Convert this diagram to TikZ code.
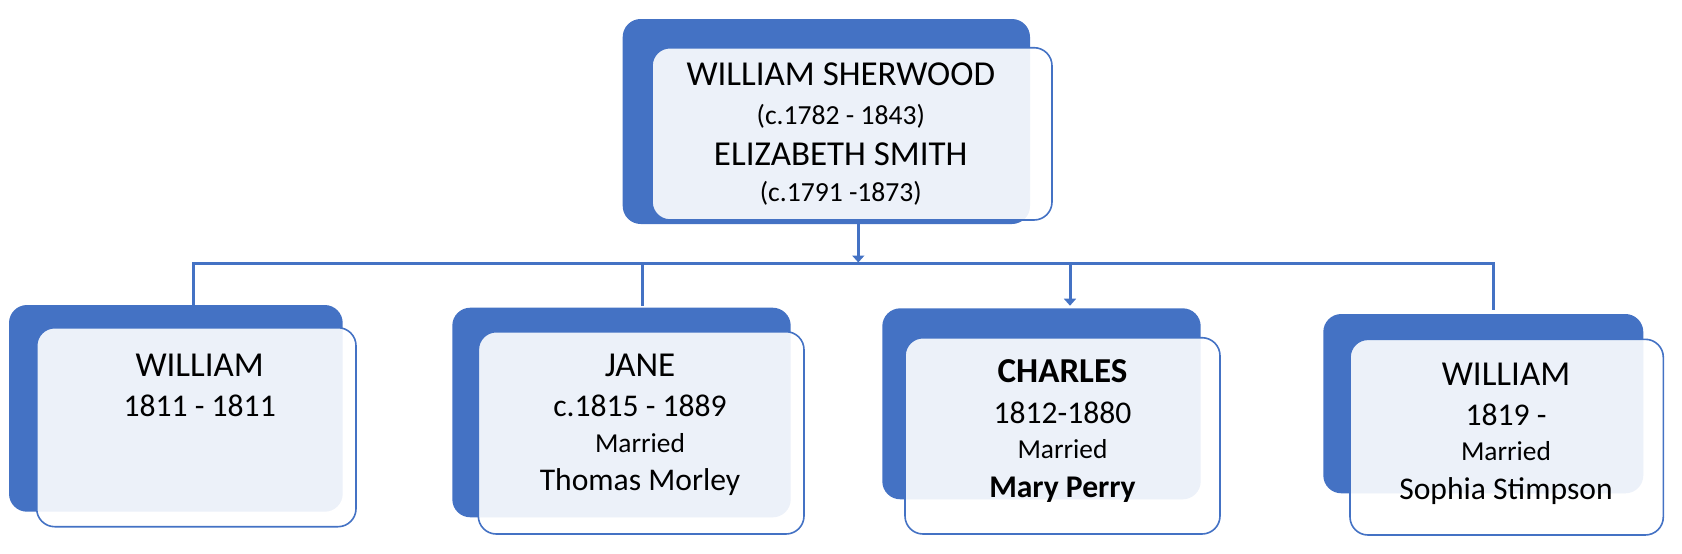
\documentclass[tikz,border=0pt]{standalone}
\usepackage{fontspec}
\setmainfont{Carlito}
\usetikzlibrary{arrows.meta}
\definecolor{myblue}{HTML}{4472C4}
\tikzset{
  backbox/.style={draw=none, fill=myblue, rounded corners=18pt, inner sep=0pt, outer sep=0pt},
  frontbox/.style={draw=myblue, line width=1.6pt, fill=white, fill opacity=0.9, rounded corners=18pt, inner sep=0pt, outer sep=0pt},
  txt/.style={anchor=base, inner sep=0pt, text=black},
  nm/.style={txt, font=\fontsize{35}{40}\selectfont},
  nmb/.style={txt, font=\fontsize{35}{40}\selectfont\bfseries},
  dt/.style={txt, font=\fontsize{31.6}{36}\selectfont},
  tdt/.style={txt, font=\fontsize{27.6}{32}\selectfont},
  mar/.style={txt, font=\fontsize{27.4}{32}\selectfont},
  sp/.style={txt, font=\fontsize{31.6}{36}\selectfont},
  spb/.style={txt, font=\fontsize{31.6}{36}\selectfont\bfseries},
  conn/.style={draw=myblue, line width=3pt},
  arr/.style={conn, -{Triangle[width=12pt,length=7pt]}}
}
\begin{document}
\begin{tikzpicture}[x=1pt,y=-1pt]
\useasboundingbox (0,0) rectangle (1682,554);
% top card
\node[backbox, minimum width=407.3pt, minimum height=205pt] (topB) at (826.35,121.5) {};
\node[frontbox, minimum width=400pt, minimum height=172.3pt] (topF) at (852,133.85) {};
\node[nm] (t1) at (840.8,85.3) {WILLIAM SHERWOOD};
\node[tdt] (t2) at (840.8,124.5) {(c.1782 - 1843)};
\node[nm] (t3) at (840.8,165.6) {ELIZABETH SMITH};
\node[tdt] (t4) at (840.8,201.2) {(c.1791 -1873)};
% child 1
\node[backbox, minimum width=333.7pt, minimum height=206.7pt] (aB) at (175.85,408.35) {};
\node[frontbox, minimum width=319.3pt, minimum height=199pt] (aF) at (196.35,427.2) {};
\node[nm] (a1) at (199.7,376) {WILLIAM};
\node[dt] (a2) at (199.7,416) {1811 - 1811};
% child 2
\node[backbox, minimum width=338.4pt, minimum height=209.6pt] (bB) at (621.5,412.5) {};
\node[frontbox, minimum width=325.7pt, minimum height=202.3pt] (bF) at (641.15,432.85) {};
\node[nm] (b1) at (640,376) {JANE};
\node[dt] (b2) at (640,416.7) {c.1815 - 1889};
\node[mar] (b3) at (640,452.7) {Married};
\node[sp] (b4) at (640,490) {Thomas Morley};
% child 3
\node[backbox, minimum width=318.4pt, minimum height=191pt] (cB) at (1041.5,403.8) {};
\node[frontbox, minimum width=315pt, minimum height=196.3pt] (cF) at (1062.5,435.85) {};
\node[nmb] (c1) at (1062.5,382.9) {CHARLES};
\node[dt] (c2) at (1062.5,423.7) {1812-1880};
\node[mar] (c3) at (1062.5,458.2) {Married};
\node[spb] (c4) at (1062.5,497.3) {Mary Perry};
% child 4
\node[backbox, minimum width=320pt, minimum height=179.3pt] (dB) at (1483.3,403.65) {};
\node[frontbox, minimum width=313.3pt, minimum height=195.7pt] (dF) at (1506.65,437.15) {};
\node[nm] (d1) at (1506,385.7) {WILLIAM};
\node[dt] (d2) at (1506,425.7) {1819 -};
\node[mar] (d3) at (1506,460.7) {Married};
\node[sp] (d4) at (1506,499.7) {Sophia Stimpson};
% connectors
\coordinate (bus0) at (858.3,262.5);
\coordinate (bus1) at (193.3,263.3);
\coordinate (bus2) at (642.7,263.3);
\coordinate (bus3) at (1070,263.3);
\coordinate (bus4) at (1493.3,263.3);
\draw[conn] (bus1 |- aB.north) -- (bus1) -- (bus4) -- ([yshift=4pt]bus4 |- dB.north);
\draw[conn] (bus2) -- ([yshift=1.5pt]bus2 |- bB.north);
\draw[arr] (topB.south -| bus0) -- (bus0);
\draw[arr] (bus3) -- ([yshift=2.6pt]bus3 |- cB.north);
\end{tikzpicture}
\end{document}
